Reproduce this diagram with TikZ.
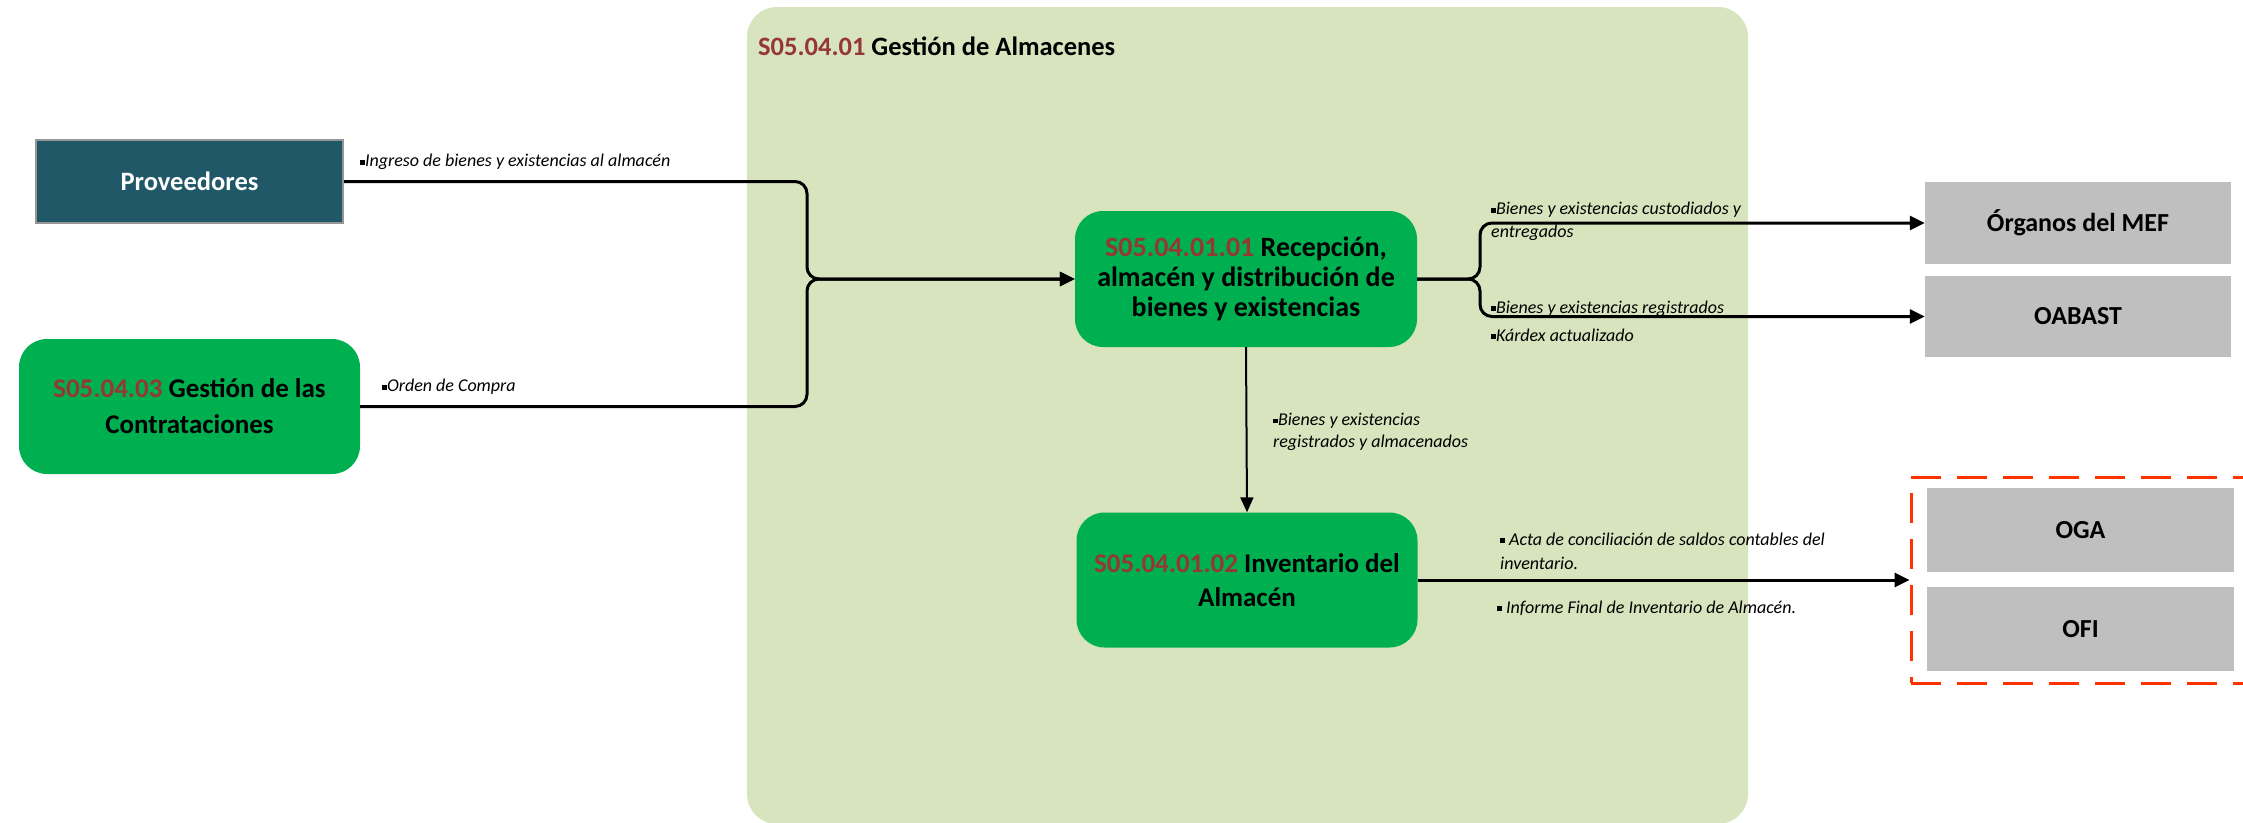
\documentclass[tikz,border=0pt]{standalone}
\usepackage{fontspec}
\setmainfont{Carlito}
\usetikzlibrary{arrows.meta}
\definecolor{contbg}{HTML}{D7E4BD}
\definecolor{gbox}{HTML}{00B050}
\definecolor{dred}{HTML}{953735}
\definecolor{provcol}{HTML}{215868}
\definecolor{greybox}{HTML}{BFBFBF}
\definecolor{dashred}{HTML}{FF3300}
\newcommand{\bul}{\raisebox{0.12em}{\rule{0.27em}{0.27em}}}
\begin{document}
\begin{tikzpicture}[x=1pt,y=-1pt,
  procbox/.style={rounded corners=28pt, fill=gbox, minimum width=341pt, minimum height=135pt, inner sep=0pt, align=center, font=\fontsize{27}{36}\selectfont\bfseries},
  extbox/.style={fill=greybox, minimum width=306pt, minimum height=82pt, inner sep=0pt, font=\fontsize{26}{30}\selectfont\bfseries},
  lbl/.style={anchor=west, align=left, inner sep=0pt, font=\fontsize{18}{24}\selectfont\itshape},
  conn/.style={line width=3pt, rounded corners=12pt, -{Triangle[length=15pt,width=14pt]}},
  code/.style={text=dred}]
\useasboundingbox (0,0) rectangle (2243,822);
\clip (0,0) rectangle (2243,822);
\fill[contbg, rounded corners=30pt] (747,7) rectangle (1748,824);
\node[anchor=west, inner sep=0pt, font=\fontsize{26.5}{30}\selectfont\bfseries] (title) at (758,46) {\textcolor{dred}{S05.04.01} Gestión de Almacenes};

\node[fill=provcol, draw={rgb,255:red,150;green,150;blue,150}, line width=2pt, minimum width=307pt, minimum height=83pt, inner sep=0pt, text=white, font=\fontsize{26.5}{30}\selectfont\bfseries] (prov) at (189.5,181.5) {Proveedores};
\node[procbox] (contr) at (189.5,406.5) {\textcolor{dred}{S05.04.03} Gestión de las\\Contrataciones};
\node[procbox, minimum width=342pt, minimum height=136pt, font=\fontsize{28}{30}\selectfont\bfseries] (rec) at (1246,279) {\textcolor{dred}{S05.04.01.01} Recepción,\\almacén y distribución de\\bienes y existencias};
\node[procbox, font=\fontsize{27}{34}\selectfont\bfseries] (inv) at (1247,580) {\textcolor{dred}{S05.04.01.02} Inventario del\\Almacén};

\node[extbox] (mef) at (2078,223) {Órganos del MEF};
\node[extbox, minimum height=81pt] (oabast) at (2078,316.5) {OABAST};
\node[draw=dashred, line width=3pt, dash pattern=on 30pt off 16pt, minimum width=349pt, minimum height=206pt, inner sep=0pt] (grp) at (2085.5,580) {};
\node[extbox, minimum width=307pt, minimum height=84pt] (oga) at (2080.5,530) {OGA};
\node[extbox, minimum width=307pt, minimum height=84pt] (ofi) at (2080.5,629) {OFI};

\coordinate (jin) at (807,279);
\coordinate (jout) at (1480,279);
\draw[conn] (prov.east) -| (jin) -- (rec.west);
\draw[conn] (contr.east) -| (jin) -- (rec.west);
\draw[conn] (rec.east) -- (jout) |- (mef.west);
\draw[conn] (rec.east) -- (jout) |- (oabast.west);
\draw[line width=2pt, -{Triangle[length=15pt,width=13pt]}] (rec.south) -- (inv.north);
\draw[conn] (inv.east) -- (grp.west);

\node[lbl] (l1) at (360,162) {\bul Ingreso de bienes y existencias al almacén};
\node[lbl] (l2) at (382,387) {\bul Orden de Compra};
\node[lbl, font=\fontsize{18}{23}\selectfont\itshape] (l3) at (1491,221.5) {\bul Bienes y existencias custodiados y\\entregados};
\node[lbl, font=\fontsize{18}{28}\selectfont\itshape] (l4) at (1491,321) {\bul Bienes y existencias registrados\\\bul Kárdex actualizado};
\node[lbl, font=\fontsize{18}{22}\selectfont\itshape] (l5) at (1273,432) {\bul Bienes y existencias\\registrados y almacenados};
\node[lbl] (l6) at (1500,551) {\bul\ Acta de conciliación de saldos contables del\\inventario.};
\node[lbl] (l7) at (1497,608) {\bul\ Informe Final de Inventario de Almacén.};
\end{tikzpicture}
\end{document}
